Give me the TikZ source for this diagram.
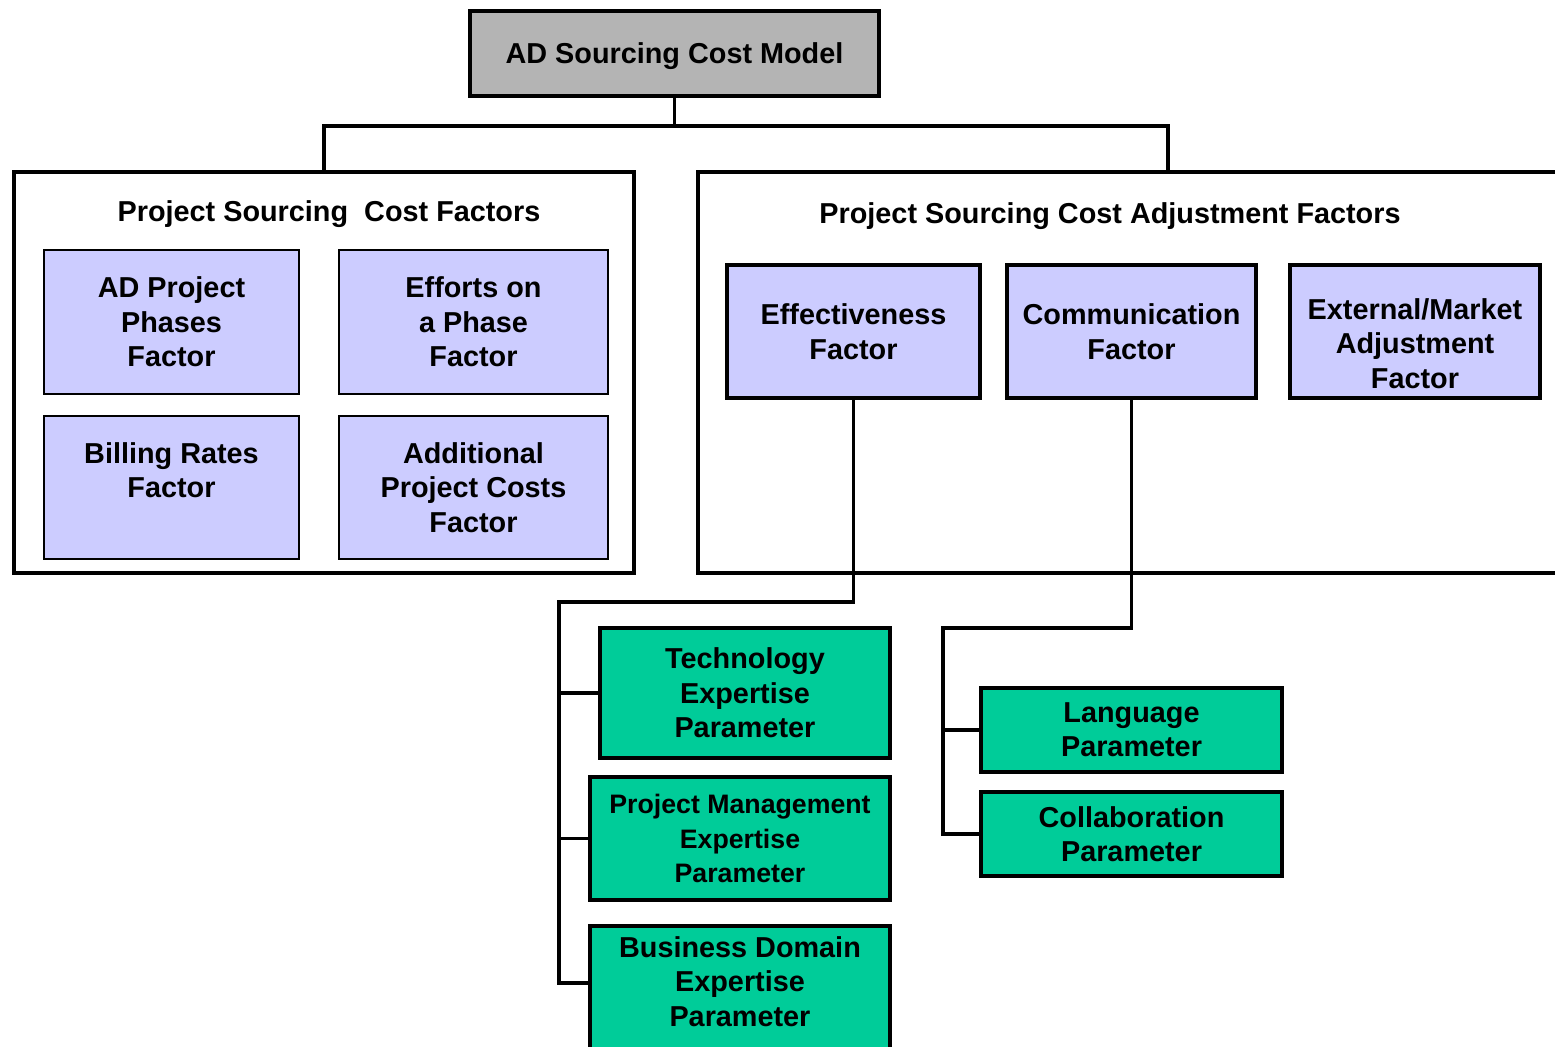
\documentclass[tikz,border=0pt]{standalone}
\usepackage{fontspec}
\setmainfont{Liberation Sans}
\usetikzlibrary{positioning}
\definecolor{modelgray}{RGB}{180,180,180}
\definecolor{factorblue}{RGB}{204,204,255}
\definecolor{paramgreen}{RGB}{0,204,153}

\begin{document}
\begin{tikzpicture}[x=0.02cm,y=-0.02cm,
  every node/.style={font=\bfseries\fontsize{16.4}{19.6}\selectfont, align=center, inner sep=0pt},
  rootbox/.style={draw, line width=2.4pt, fill=modelgray},
  groupframe/.style={draw, line width=2.1pt},
  factorbox/.style={draw, line width=1.2pt, fill=factorblue},
  adjbox/.style={draw, line width=2.1pt, fill=factorblue},
  parambox/.style={draw, line width=2.3pt, fill=paramgreen},
  link/.style={line width=2.1pt}]
\useasboundingbox (0,0) rectangle (1555,1047);

% top
\node[rootbox, minimum width=8.18cm, minimum height=1.7cm, text depth=0pt] (model) at (674.5,53.5) {AD Sourcing Cost Model};

% left group
\node[groupframe, minimum width=12.4cm, minimum height=8.02cm] (costgrp) at (324,372.5) {};
\node (costtitle) at (329,214) {Project Sourcing\ \ Cost Factors};
\node[factorbox, minimum width=5.1cm, minimum height=2.88cm] (phases) at (171.5,322) {AD Project\\Phases\\Factor};
\node[factorbox, minimum width=5.38cm, minimum height=2.88cm] (effort) at (473.5,322) {Efforts on\\a Phase\\Factor};
\node[factorbox, minimum width=5.1cm, minimum height=2.86cm] (billing) at (171.5,487.5) {Billing Rates\\Factor\\\mbox{}};
\node[factorbox, minimum width=5.38cm, minimum height=2.86cm] (addcost) at (473.5,487.5) {Additional\\Project Costs\\Factor};

% right group
\coordinate (adjtop) at (1168,172);
\draw[groupframe] (1557,172) -| (698,573) -- (1557,573);
\node (adjtitle) at (1110,216) {Project Sourcing Cost Adjustment Factors};
\node[adjbox, minimum width=5.06cm, minimum height=2.66cm] (effect) at (853.5,331.5) {Effectiveness\\Factor};
\node[adjbox, minimum width=4.98cm, minimum height=2.66cm] (comm) at (1131.5,331.5) {Communication\\Factor};
\node[adjbox, minimum width=5.0cm, minimum height=2.66cm, text height=64.8pt] (market) at (1415,331.5) {External/Market\\Adjustment\\Factor};

% parameters
\node[parambox, minimum width=5.8cm, minimum height=2.6cm] (techexp) at (745,693) {Technology\\Expertise\\Parameter};
\node[parambox, minimum width=6.0cm, minimum height=2.46cm, font=\bfseries\fontsize{15.2}{19.6}\selectfont] (pmexp) at (740,838.5) {Project Management\\Expertise\\Parameter};
\node[parambox, minimum width=6.0cm, minimum height=2.6cm, text depth=0.39cm] (bizexp) at (740,991) {Business Domain\\Expertise\\Parameter};
\node[parambox, minimum width=6.02cm, minimum height=1.68cm] (lang) at (1131.5,730) {Language\\Parameter};
\node[parambox, minimum width=6.02cm, minimum height=1.68cm] (collab) at (1131.5,834) {Collaboration\\Parameter};

% links
\coordinate (bus) at (674.5,126);
\draw[link] (model.south) -- (bus);
\draw[link] (costgrp.north) |- (bus) -| (adjtop);

\coordinate (effspine) at (559,602);
\draw[link] (effect.south) |- (effspine) |- ([yshift=0.16cm]bizexp.west);
\draw[link] (effspine) |- (techexp.west);
\draw[link] (effspine) |- (pmexp.west);

\coordinate (comspine) at (943,628);
\draw[link] (comm.south) |- (comspine) |- (collab.west);
\draw[link] (comspine) |- (lang.west);
\end{tikzpicture}
\end{document}
